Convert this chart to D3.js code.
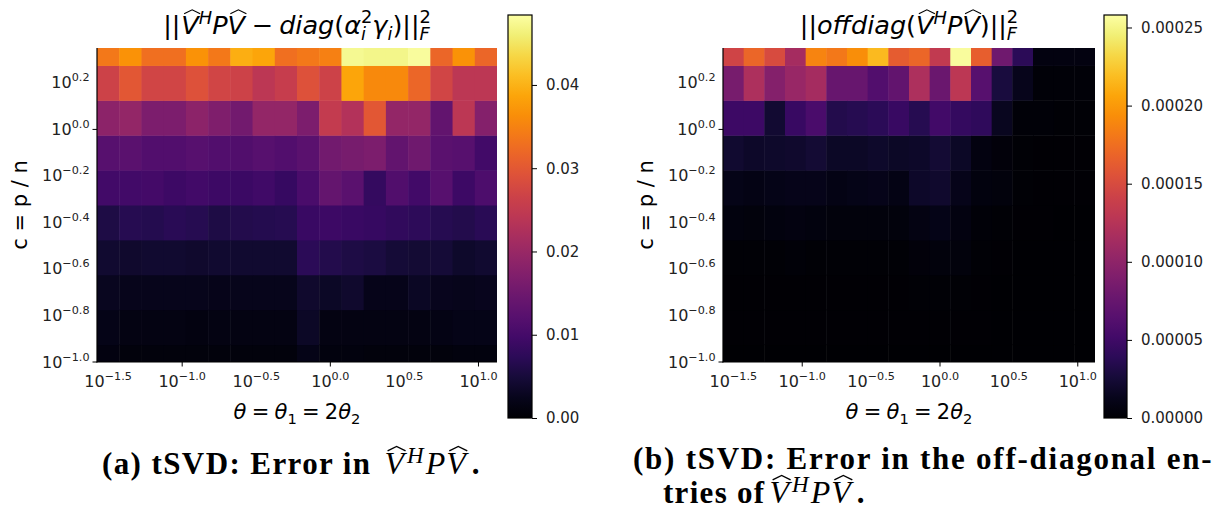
<!DOCTYPE html>
<html>
<head>
<meta charset="utf-8">
<script src="https://cdn.jsdelivr.net/npm/d3@7"></script>
<style>
  body { margin: 0; background: #fff; }
  svg { display: block; }
</style>
</head>
<body>
<div id="chart"></div>
<script>
// log10 of theta at each column centre, log10 of c at each row centre
const thetaExp = [-1.5, -1.35, -1.2, -1.05, -0.9, -0.75, -0.6, -0.45, -0.3, -0.15, 0.0, 0.15, 0.3, 0.45, 0.6, 0.75, 0.9, 1.05];
const cExp = [-1.0, -0.85, -0.7, -0.55, -0.4, -0.25, -0.1, 0.05, 0.2, 0.35];

const xTickExp = [-1.5, -1.0, -0.5, 0.0, 0.5, 1.0];
const yTickExp = [-1.0, -0.8, -0.6, -0.4, -0.2, 0.0, 0.2];
const xMajorExp = [-1, 0, 1];
const yMajorExp = [-1, 0];

const cbarTicksA = [0, 0.01, 0.02, 0.03, 0.04];
const cbarTicksB = [0, 0.00005, 0.0001, 0.00015, 0.0002, 0.00025];
const cbarMaxA = 0.0484;
const cbarMaxB = 0.000258;

// panel (a): ||V^H P V - diag(a^2 g)||_F^2, one row per c (bottom row first)
const errA = [
  [0.0014, 0.0011, 0.0011, 0.0011, 0.0010, 0.0011, 0.0011, 0.0011, 0.0011, 0.0020, 0.0013, 0.0013, 0.0011, 0.0011, 0.0011, 0.0011, 0.0012, 0.0012],
  [0.0020, 0.0017, 0.0017, 0.0017, 0.0014, 0.0017, 0.0017, 0.0017, 0.0017, 0.0034, 0.0017, 0.0017, 0.0017, 0.0017, 0.0017, 0.0018, 0.0019, 0.0020],
  [0.0027, 0.0024, 0.0024, 0.0024, 0.0024, 0.0022, 0.0024, 0.0024, 0.0024, 0.0039, 0.0034, 0.0039, 0.0022, 0.0022, 0.0031, 0.0025, 0.0023, 0.0025],
  [0.0041, 0.0039, 0.0041, 0.0041, 0.0039, 0.0041, 0.0041, 0.0041, 0.0041, 0.0073, 0.0063, 0.0058, 0.0053, 0.0046, 0.0044, 0.0046, 0.0036, 0.0041],
  [0.0058, 0.0068, 0.0066, 0.0070, 0.0068, 0.0058, 0.0063, 0.0066, 0.0068, 0.0087, 0.0092, 0.0087, 0.0085, 0.0078, 0.0075, 0.0068, 0.0063, 0.0070],
  [0.0097, 0.0097, 0.0100, 0.0092, 0.0097, 0.0092, 0.0090, 0.0095, 0.0085, 0.0106, 0.0138, 0.0126, 0.0082, 0.0114, 0.0097, 0.0121, 0.0092, 0.0111],
  [0.0121, 0.0126, 0.0116, 0.0116, 0.0121, 0.0116, 0.0114, 0.0121, 0.0116, 0.0126, 0.0155, 0.0160, 0.0165, 0.0136, 0.0150, 0.0126, 0.0121, 0.0097],
  [0.0184, 0.0194, 0.0165, 0.0165, 0.0184, 0.0169, 0.0155, 0.0194, 0.0194, 0.0165, 0.0252, 0.0232, 0.0300, 0.0194, 0.0194, 0.0136, 0.0242, 0.0174],
  [0.0266, 0.0300, 0.0271, 0.0271, 0.0290, 0.0271, 0.0266, 0.0242, 0.0257, 0.0290, 0.0266, 0.0387, 0.0358, 0.0358, 0.0319, 0.0271, 0.0242, 0.0242],
  [0.0339, 0.0368, 0.0329, 0.0329, 0.0368, 0.0339, 0.0397, 0.0387, 0.0329, 0.0339, 0.0348, 0.0474, 0.0469, 0.0469, 0.0479, 0.0319, 0.0368, 0.0319]
];

// panel (b): ||offdiag(V^H P V)||_F^2
const errB = [
  [0.1e-5, 0.1e-5, 0.1e-5, 0.1e-5, 0.1e-5, 0.1e-5, 0.1e-5, 0.1e-5, 0.1e-5, 0.1e-5, 0.1e-5, 0.1e-5, 0.1e-5, 0.1e-5, 0.1e-5, 0.1e-5, 0.1e-5, 0.1e-5],
  [0.15e-5, 0.15e-5, 0.15e-5, 0.15e-5, 0.15e-5, 0.15e-5, 0.15e-5, 0.15e-5, 0.15e-5, 0.2e-5, 0.2e-5, 0.2e-5, 0.15e-5, 0.1e-5, 0.1e-5, 0.1e-5, 0.1e-5, 0.1e-5],
  [0.2e-5, 0.2e-5, 0.2e-5, 0.2e-5, 0.2e-5, 0.2e-5, 0.2e-5, 0.2e-5, 0.2e-5, 0.3e-5, 0.3e-5, 0.3e-5, 0.2e-5, 0.1e-5, 0.1e-5, 0.1e-5, 0.1e-5, 0.1e-5],
  [0.3e-5, 0.3e-5, 0.3e-5, 0.4e-5, 0.3e-5, 0.3e-5, 0.3e-5, 0.3e-5, 0.3e-5, 0.5e-5, 0.6e-5, 0.6e-5, 0.3e-5, 0.2e-5, 0.1e-5, 0.1e-5, 0.1e-5, 0.1e-5],
  [0.7e-5, 0.6e-5, 0.7e-5, 0.8e-5, 0.7e-5, 0.6e-5, 0.6e-5, 0.6e-5, 0.6e-5, 0.9e-5, 1.1e-5, 0.8e-5, 0.4e-5, 0.3e-5, 0.2e-5, 0.2e-5, 0.1e-5, 0.1e-5],
  [1.1e-5, 1.0e-5, 1.1e-5, 1.2e-5, 1.2e-5, 1.0e-5, 1.1e-5, 1.2e-5, 1.0e-5, 1.9e-5, 2.1e-5, 1.2e-5, 0.7e-5, 0.6e-5, 0.3e-5, 0.2e-5, 0.2e-5, 0.2e-5],
  [2.2e-5, 1.9e-5, 2.0e-5, 2.1e-5, 2.4e-5, 1.8e-5, 1.8e-5, 2.0e-5, 1.8e-5, 1.9e-5, 2.4e-5, 1.8e-5, 0.8e-5, 0.5e-5, 0.3e-5, 0.2e-5, 0.2e-5, 0.2e-5],
  [4.9e-5, 4.9e-5, 2.3e-5, 4.6e-5, 5.7e-5, 3.4e-5, 3.6e-5, 3.9e-5, 4.6e-5, 3.6e-5, 5.2e-5, 4.4e-5, 4.1e-5, 1.5e-5, 0.4e-5, 0.4e-5, 0.3e-5, 0.3e-5],
  [8.5e-5, 11.9e-5, 9.3e-5, 10.6e-5, 11.4e-5, 7.5e-5, 7.5e-5, 6.2e-5, 7.2e-5, 11.9e-5, 7.7e-5, 12.9e-5, 6.5e-5, 2.8e-5, 1.3e-5, 0.4e-5, 0.4e-5, 0.4e-5],
  [14.4e-5, 17.0e-5, 15.0e-5, 11.4e-5, 18.8e-5, 18.1e-5, 19.4e-5, 21.7e-5, 16.3e-5, 17.0e-5, 13.4e-5, 25.5e-5, 16.5e-5, 8.0e-5, 3.9e-5, 0.8e-5, 0.8e-5, 0.8e-5]
];

const width = 1212;
const height = 516;
const plotTop = 48, plotBottom = 362;
const cbTop = 15, cbBottom = 418;
const mathFont = 'DejaVu Sans';
const capFont = 'Liberation Serif';

const svg = d3.select('#chart')
  .append('svg')
  .attr('width', width)
  .attr('height', height)
  .attr('viewBox', `0 0 ${width} ${height}`);

const defs = svg.append('defs');

// lay out a run of math pieces in one <text>, one tspan per piece, measuring as we go.
// piece: t, size, it, bold, family, dy (baseline shift), dx (extra gap),
//        stack (start at previous piece's x), hat ([base, apex] as fraction of size), br ([x, y] new line)
function mathText(parent, parts, x, y, anchor, family) {
  const g = parent.append('g');
  const text = g.append('text').attr('fill', '#000').attr('font-family', family);
  let cx = 0, lastX = 0, lineY = 0, maxX = 0;
  parts.forEach(p => {
    if (p.br) {
      maxX = Math.max(maxX, cx);
      cx = p.br[0];
      lineY = p.br[1];
      return;
    }
    const px = p.stack ? lastX : cx + (p.dx || 0);
    const py = lineY + (p.dy || 0);
    const ts = text.append('tspan')
      .attr('x', px)
      .attr('y', py)
      .attr('font-family', p.family || family)
      .attr('font-size', p.size)
      .attr('font-style', p.it ? 'italic' : 'normal')
      .attr('font-weight', p.bold ? 'bold' : 'normal')
      .attr('letter-spacing', p.ls || 0)
      .text(p.t);
    const w = ts.node().getComputedTextLength();
    if (p.hat) {
      const s = p.size, b = py - p.hat[0] * s, a = py - p.hat[1] * s;
      g.append('path')
        .attr('d', `M${px + 0.16 * w},${b} L${px + 0.62 * w},${a} L${px + 1.08 * w},${b}`)
        .attr('fill', 'none')
        .attr('stroke', '#000')
        .attr('stroke-width', s * 0.045);
    }
    if (p.stack) {
      cx = Math.max(cx, px + w);
    } else {
      lastX = px;
      cx = px + w;
    }
  });
  maxX = Math.max(maxX, cx);
  const off = anchor === 'middle' ? -maxX / 2 : anchor === 'end' ? -maxX : 0;
  g.attr('transform', `translate(${x + off},${y})`);
  return g;
}

const fmtExp = e => e.toFixed(1).replace('-', '\u2212');

function drawPanel(cfg) {
  const x = d3.scaleLog()
    .domain([Math.pow(10, thetaExp[0] - 0.075), Math.pow(10, thetaExp[thetaExp.length - 1] + 0.075)])
    .range([cfg.left, cfg.right]);
  const y = d3.scaleLog()
    .domain([Math.pow(10, cExp[0]), Math.pow(10, cExp[cExp.length - 1])])
    .range([plotBottom, plotTop]);
  const color = d3.scaleSequential(d3.interpolateInferno).domain([0, cfg.vmax]);

  // cell edges halfway (in log) between neighbouring centres
  const edge = (arr, i, side) => {
    const a = arr[i];
    const n = side < 0 ? (i > 0 ? arr[i - 1] : a - (arr[1] - arr[0])) : (i < arr.length - 1 ? arr[i + 1] : a + (a - arr[i - 1]));
    return Math.pow(10, (a + n) / 2);
  };

  const clipId = 'clip-' + cfg.id;
  defs.append('clipPath').attr('id', clipId)
    .append('rect')
    .attr('x', cfg.left).attr('y', plotTop)
    .attr('width', cfg.right - cfg.left).attr('height', plotBottom - plotTop);

  const cells = [];
  cfg.data.forEach((row, ri) => row.forEach((v, ci) => cells.push({ ri, ci, v })));

  svg.append('g')
    .attr('clip-path', `url(#${clipId})`)
    .selectAll('rect')
    .data(cells)
    .join('rect')
    .attr('x', d => x(edge(thetaExp, d.ci, -1)))
    .attr('width', d => x(edge(thetaExp, d.ci, 1)) - x(edge(thetaExp, d.ci, -1)) + 0.5)
    .attr('y', d => y(edge(cExp, d.ri, 1)))
    .attr('height', d => y(edge(cExp, d.ri, -1)) - y(edge(cExp, d.ri, 1)) + 0.5)
    .attr('fill', d => color(d.v));

  // spines
  svg.append('line')
    .attr('x1', cfg.left).attr('x2', cfg.left)
    .attr('y1', plotTop).attr('y2', plotBottom + 0.5)
    .attr('stroke', '#000').attr('stroke-width', 1.2);
  svg.append('line')
    .attr('x1', cfg.left - 0.5).attr('x2', cfg.right)
    .attr('y1', plotBottom).attr('y2', plotBottom)
    .attr('stroke', '#000').attr('stroke-width', 1.2);

  // tick marks only at whole decades
  xMajorExp.forEach(e => {
    const px = x(Math.pow(10, e));
    svg.append('line').attr('x1', px).attr('x2', px)
      .attr('y1', plotBottom).attr('y2', plotBottom + 4.5)
      .attr('stroke', '#000').attr('stroke-width', 1);
  });
  yMajorExp.forEach(e => {
    const py = y(Math.pow(10, e));
    svg.append('line').attr('x1', cfg.left - 4.5).attr('x2', cfg.left)
      .attr('y1', py).attr('y2', py)
      .attr('stroke', '#000').attr('stroke-width', 1);
  });

  // tick labels 10^e
  const xl = svg.append('g');
  xTickExp.forEach(e => {
    const t = xl.append('text')
      .attr('x', x(Math.pow(10, e)))
      .attr('y', plotBottom + 25)
      .attr('text-anchor', 'middle')
      .attr('font-family', mathFont)
      .attr('font-size', 16)
      .attr('fill', '#222');
    t.append('tspan').text('10');
    t.append('tspan').attr('dy', -7).attr('font-size', 11.2).text(fmtExp(e));
  });
  const yl = svg.append('g');
  yTickExp.forEach(e => {
    const t = yl.append('text')
      .attr('x', cfg.left - 7.5)
      .attr('y', y(Math.pow(10, e)) + 5.5)
      .attr('text-anchor', 'end')
      .attr('font-family', mathFont)
      .attr('font-size', 16)
      .attr('fill', '#222');
    t.append('tspan').text('10');
    t.append('tspan').attr('dy', -7).attr('font-size', 11.2).text(fmtExp(e));
  });

  // axis labels
  svg.append('text')
    .attr('transform', `translate(${cfg.left - 70},${(plotTop + plotBottom) / 2}) rotate(-90)`)
    .attr('text-anchor', 'middle')
    .attr('font-family', mathFont)
    .attr('font-size', 21)
    .attr('fill', '#000')
    .text('c = p / n');

  const mid = (cfg.left + cfg.right) / 2;
  mathText(svg, [
    { t: '\u03b8', size: 21, it: true },
    { t: '\u2005=\u2005', size: 21 },
    { t: '\u03b8', size: 21, it: true },
    { t: '1', size: 14.7, dy: 4.5 },
    { t: '\u2005=\u2005', size: 21 },
    { t: '2', size: 21 },
    { t: '\u03b8', size: 21, it: true },
    { t: '2', size: 14.7, dy: 4.5 }
  ], mid, 419, 'middle', mathFont);

  mathText(svg, cfg.title, mid, 34, 'middle', mathFont);

  // colorbar
  const gradId = 'grad-' + cfg.id;
  const grad = defs.append('linearGradient').attr('id', gradId)
    .attr('x1', 0).attr('y1', 1).attr('x2', 0).attr('y2', 0);
  d3.range(0, 1.0001, 0.05).forEach(t => {
    grad.append('stop').attr('offset', t).attr('stop-color', d3.interpolateInferno(t));
  });
  svg.append('rect')
    .attr('x', cfg.cbX).attr('y', cbTop)
    .attr('width', cfg.cbW).attr('height', cbBottom - cbTop)
    .attr('fill', `url(#${gradId})`)
    .attr('stroke', '#000').attr('stroke-width', 1.2);

  const cy = d3.scaleLinear().domain([0, cfg.vmax]).range([cbBottom, cbTop]);
  const cAxis = svg.append('g')
    .attr('transform', `translate(${cfg.cbX + cfg.cbW},0)`)
    .call(d3.axisRight(cy).tickValues(cfg.cbTicks).tickFormat(d3.format(cfg.cbFmt)).tickSize(5).tickPadding(9));
  cAxis.select('.domain').remove();
  cAxis.selectAll('line').attr('stroke', '#000');
  cAxis.selectAll('text')
    .attr('font-family', mathFont)
    .attr('font-size', 15)
    .attr('fill', '#222');
}

const T = 25.5, S = 17.8;
const hatT = [0.79, 0.95];

drawPanel({
  id: 'a', left: 97, right: 497, data: errA, vmax: cbarMaxA,
  cbX: 508, cbW: 24, cbTicks: cbarTicksA, cbFmt: '.2f',
  title: [
    { t: '||', size: T },
    { t: 'V', size: T, it: true, dx: 1, hat: hatT },
    { t: 'H', size: S, it: true, dy: -10 },
    { t: 'P', size: T, it: true },
    { t: 'V', size: T, it: true, hat: hatT },
    { t: '\u2005\u2212\u2005', size: T },
    { t: 'diag', size: T, it: true },
    { t: '(', size: T },
    { t: '\u03b1', size: T, it: true },
    { t: '2', size: S, dy: -11 },
    { t: 'i', size: S, it: true, dy: 6, stack: true },
    { t: '\u03b3', size: T, it: true },
    { t: 'i', size: S, it: true, dy: 6 },
    { t: ')', size: T },
    { t: '||', size: T },
    { t: '2', size: S, dy: -11 },
    { t: 'F', size: S, it: true, dy: 6, stack: true }
  ]
});

drawPanel({
  id: 'b', left: 723, right: 1095, data: errB, vmax: cbarMaxB,
  cbX: 1104, cbW: 23, cbTicks: cbarTicksB, cbFmt: '.5f',
  title: [
    { t: '||', size: T },
    { t: 'offdiag', size: T, it: true },
    { t: '(', size: T },
    { t: 'V', size: T, it: true, hat: hatT },
    { t: 'H', size: S, it: true, dy: -10 },
    { t: 'P', size: T, it: true },
    { t: 'V', size: T, it: true, hat: hatT },
    { t: ')', size: T },
    { t: '||', size: T },
    { t: '2', size: S, dy: -11 },
    { t: 'F', size: S, it: true, dy: 6, stack: true }
  ]
});

// sub-figure captions
const hatC = [0.72, 0.86];
const capMath = gap => [
  { t: 'V', size: 32, it: true, dx: gap, hat: hatC, family: capFont },
  { t: 'H', size: 23, it: true, dx: 3, dy: -11, family: capFont },
  { t: 'P', size: 32, it: true, dx: 2, family: capFont },
  { t: 'V', size: 32, it: true, dx: 1, hat: hatC, family: capFont },
  { t: '.', size: 31, bold: true, dx: 6, family: capFont }
];
mathText(svg, [
  { t: '(a) tSVD: Error in', size: 31, bold: true, ls: 1.4 }
].concat(capMath(13)), 102, 474, 'start', capFont);

mathText(svg, [
  { t: '(b) tSVD: Error in the off-diagonal en-', size: 31, bold: true, ls: 1.75 },
  { br: [30, 34] },
  { t: 'tries of', size: 31, bold: true, ls: 1.3 }
].concat(capMath(4)), 633, 469, 'start', capFont);
</script>
</body>
</html>
